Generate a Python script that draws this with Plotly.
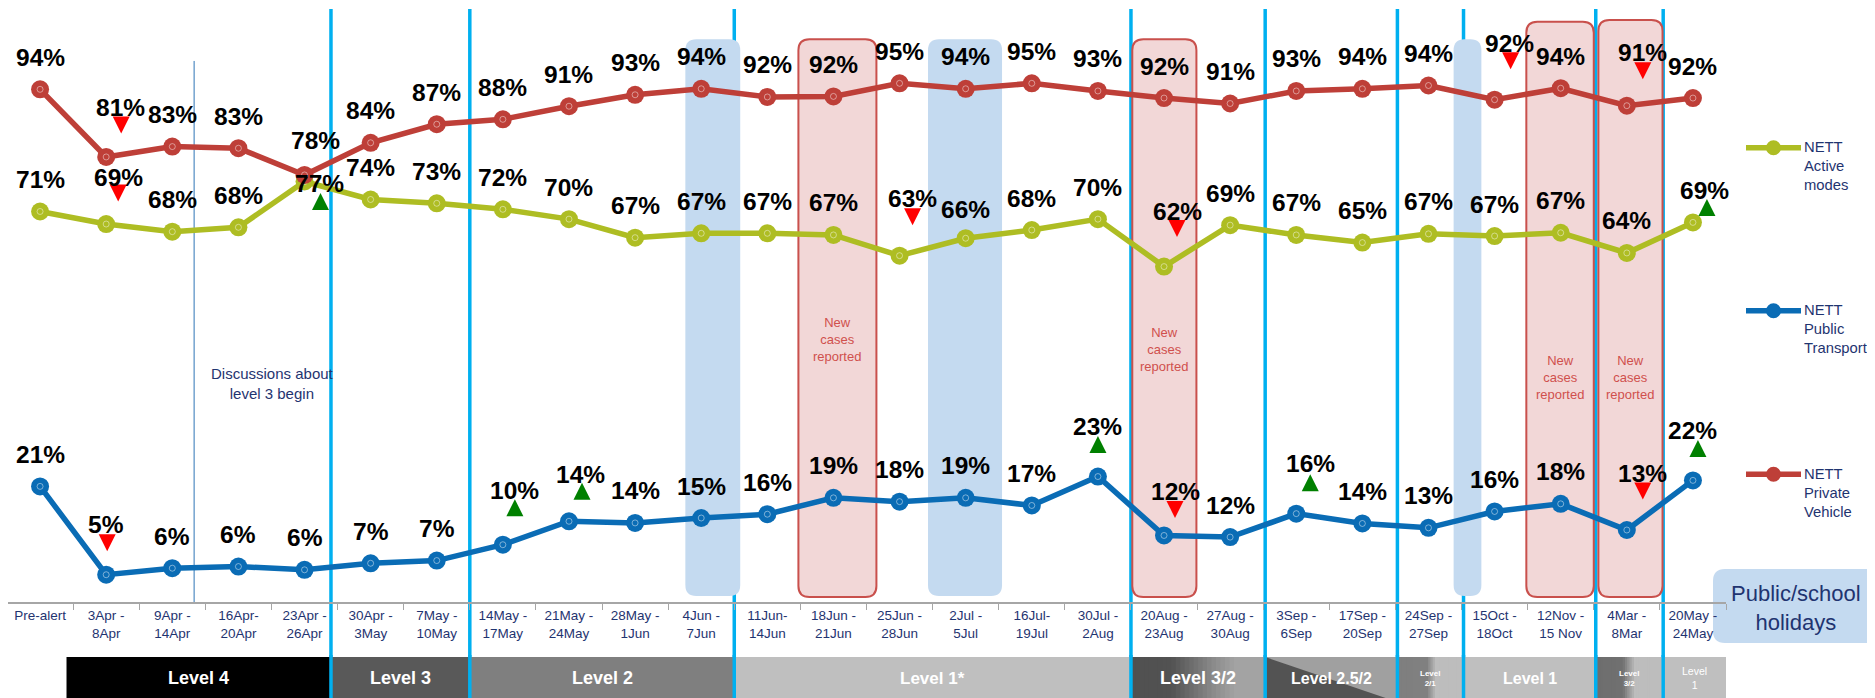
import plotly.graph_objects as go

# ---------------- data ----------------
categories = ["Pre-alert", "3Apr -<br>8Apr", "9Apr -<br>14Apr", "16Apr-<br>20Apr", "23Apr -<br>26Apr",
              "30Apr -<br>3May", "7May -<br>10May", "14May -<br>17May", "21May -<br>24May", "28May -<br>1Jun",
              "4Jun -<br>7Jun", "11Jun-<br>14Jun", "18Jun -<br>21Jun", "25Jun -<br>28Jun", "2Jul -<br>5Jul",
              "16Jul-<br>19Jul", "30Jul -<br>2Aug", "20Aug -<br>23Aug", "27Aug -<br>30Aug", "3Sep -<br>6Sep",
              "17Sep -<br>20Sep", "24Sep -<br>27Sep", "15Oct -<br>18Oct", "12Nov -<br>15 Nov", "4Mar -<br>8Mar",
              "20May -<br>24May"]

active_modes = [71.6, 69.3, 67.9, 68.7, 77.1, 73.8, 73.1, 72.0, 70.2, 66.8, 67.6, 67.6, 67.3, 63.5, 66.7,
                68.2, 70.2, 61.5, 69.1, 67.3, 65.9, 67.5, 67.1, 67.7, 64.0, 69.6]
public_transport = [21.2, 5.0, 6.2, 6.5, 5.9, 7.1, 7.6, 10.5, 14.8, 14.5, 15.4, 16.1, 19.1, 18.4, 19.1,
                    17.7, 23.0, 12.2, 11.9, 16.2, 14.4, 13.6, 16.6, 18.0, 13.2, 22.3]
private_vehicle = [94.0, 81.6, 83.5, 83.2, 78.3, 84.2, 87.6, 88.5, 90.9, 93.0, 94.1, 92.6, 92.7, 95.1, 94.1,
                   95.1, 93.7, 92.4, 91.4, 93.7, 94.1, 94.7, 92.1, 94.2, 91.0, 92.4]

active_labels = [71, 69, 68, 68, 77, 74, 73, 72, 70, 67, 67, 67, 67, 63, 66, 68, 70, 62, 69, 67, 65, 67, 67, 67, 64, 69]
public_labels = [21, 5, 6, 6, 6, 7, 7, 10, 14, 14, 15, 16, 19, 18, 19, 17, 23, 12, 12, 16, 14, 13, 16, 18, 13, 22]
private_labels = [94, 81, 83, 83, 78, 84, 87, 88, 91, 93, 94, 92, 92, 95, 94, 95, 93, 92, 91, 93, 94, 94, 92, 94, 91, 92]

# significant change indicators (index -> direction)
active_changes = {1: "down", 4: "up", 13: "down", 17: "down", 25: "up"}
public_changes = {1: "down", 7: "up", 8: "up", 16: "up", 17: "down", 19: "up", 24: "down", 25: "up"}
private_changes = {1: "down", 22: "down", 24: "down"}

level_names = ["Level 4", "Level 3", "Level 2", "Level 1*", "Level 3/2", "Level 2.5/2",
               "Level<br>2/1", "Level 1", "Level<br>3/2", "Level<br>1"]
level_bounds = [0.4, 4.4, 6.5, 10.5, 16.5, 18.53, 20.53, 21.53, 23.53, 24.55, 25.5]
level_change_lines = [4.4, 6.5, 10.5, 16.5, 18.53, 20.53, 21.53, 23.53, 24.55]
holiday_spans = [(9.76, 10.59), (13.43, 14.55), (21.38, 21.80)]
new_case_spans = [(11.47, 12.65), (16.52, 17.49), (22.48, 23.50), (23.57, 24.54)]
discussion_line = 2.33

# ---------------- layout constants ----------------
# The page body adds an 8px offset; the figure is sized so that it fills the window exactly.
OFF = 8
W, H = 1875 - OFF, 698 - OFF
ML, MR, MT, MB = 0, 149, 0, 96
PW, PH = W - ML - MR, H - MT - MB           # 1718 x 594
AXIS_Y = 602                                 # y=0 in window pixels
XR = [-0.485, 25.5]
PXX = PW / (XR[1] - XR[0])
PXY = 5.454
YR = [0, PH / PXY]


def xp(px):
    """window pixel x -> paper x"""
    return (px - OFF - ML) / PW


def yp(py):
    """window pixel y -> paper y"""
    return (AXIS_Y - py) / PH


RED = "#BE3F38"
GREEN = "#AEBD23"
BLUE = "#0A6CB5"
NAVY = "#1F3470"
FONT = "Liberation Sans, Arial, sans-serif"

fig = go.Figure()
shapes = []
annotations = []


def rounded_path(x0, x1, y0, y1, rx, ry):
    return (f"M{x0 + rx},{y0} L{x1 - rx},{y0} Q{x1},{y0} {x1},{y0 + ry} "
            f"L{x1},{y1 - ry} Q{x1},{y1} {x1 - rx},{y1} L{x0 + rx},{y1} "
            f"Q{x0},{y1} {x0},{y1 - ry} L{x0},{y0 + ry} Q{x0},{y0} {x0 + rx},{y0} Z")


# holiday boxes
for (a, b) in holiday_spans:
    shapes.append(dict(type="path", xref="x", yref="y", layer="below",
                       path=rounded_path(a, b, 1.1, 103.2, 11 / PXX, 11 / PXY),
                       fillcolor="#C4DAF0", line=dict(width=0)))
# new cases boxes
nc_tops = [103.2, 103.2, 106.4, 106.7]
nc_text_y = [339, 349, 378, 378]
for (a, b), top, ty in zip(new_case_spans, nc_tops, nc_text_y):
    shapes.append(dict(type="path", xref="x", yref="y", layer="below",
                       path=rounded_path(a, b, 0.9, top, 11 / PXX, 11 / PXY),
                       fillcolor="#F2D7D7", line=dict(width=2, color="#C9504C")))
    annotations.append(dict(x=(a + b) / 2, y=yp(ty), xref="x", yref="paper",
                            xanchor="center", yanchor="middle",
                            text="New<br>cases<br>reported", showarrow=False,
                            font=dict(size=13, color="#D0504D", family=FONT)))

# level change vertical lines
for xv in level_change_lines:
    shapes.append(dict(type="line", xref="x", yref="paper", layer="below",
                       x0=xv, x1=xv, y0=yp(9), y1=yp(702),
                       line=dict(color="#00B0F0", width=3.5)))

# discussion line
shapes.append(dict(type="line", xref="x", yref="y", layer="below",
                   x0=discussion_line, x1=discussion_line, y0=0, y1=99.2,
                   line=dict(color="#2E75B6", width=1)))
annotations.append(dict(x=discussion_line + 1.18, y=yp(383), xref="x", yref="paper",
                        xanchor="center", yanchor="middle",
                        text="Discussions about<br>level 3 begin", showarrow=False,
                        font=dict(size=15, color=NAVY, family=FONT)))


# level band
def hex2rgb(h):
    h = h.lstrip("#")
    return tuple(int(h[i:i + 2], 16) for i in (0, 2, 4))


def grad_color(stops, t):
    for (t0, c0), (t1, c1) in zip(stops[:-1], stops[1:]):
        if t0 <= t <= t1:
            f = 0 if t1 == t0 else (t - t0) / (t1 - t0)
            a, b = hex2rgb(c0), hex2rgb(c1)
            return "rgb(%d,%d,%d)" % tuple(round(a[k] + (b[k] - a[k]) * f) for k in range(3))
    return stops[-1][1]


band_y0, band_y1 = yp(657), yp(702)
band_styles = [
    [(0, "#000000"), (1, "#000000")],
    [(0, "#595959"), (1, "#595959")],
    [(0, "#7F7F7F"), (1, "#7F7F7F")],
    [(0, "#BFBFBF"), (1, "#BFBFBF")],
    [(0, "#505050"), (0.3, "#525252"), (0.62, "#8C8C8C"), (0.78, "#A3A3A3"), (1, "#A3A3A3")],
    "diag",
    [(0, "#7F7F7F"), (0.45, "#808080"), (0.58, "#BDBDBD"), (1, "#BDBDBD")],
    [(0, "#BFBFBF"), (1, "#BFBFBF")],
    [(0, "#6E6E6E"), (0.4, "#707070"), (0.58, "#BDBDBD"), (1, "#BDBDBD")],
    [(0, "#BFBFBF"), (1, "#BFBFBF")],
]
level_font_sizes = [18, 18, 18, 17, 18, 16, 8, 16, 8, 10.5]
for k, name in enumerate(level_names):
    a, b = level_bounds[k], level_bounds[k + 1]
    st = band_styles[k]
    if st == "diag":
        shapes.append(dict(type="rect", xref="x", yref="paper", layer="below", x0=a, x1=b,
                           y0=band_y1, y1=band_y0, fillcolor="#A0A0A0", line=dict(width=0)))
        shapes.append(dict(type="path", xref="x", yref="paper", layer="below",
                           path=f"M{a},{band_y0} L{a},{band_y1} L{b},{band_y1} Z",
                           fillcolor="#535353", line=dict(width=0)))
    elif len(st) == 2 and st[0][1] == st[1][1]:
        shapes.append(dict(type="rect", xref="x", yref="paper", layer="below", x0=a, x1=b,
                           y0=band_y1, y1=band_y0, fillcolor=st[0][1], line=dict(width=0)))
    else:
        n = 30
        for j in range(n):
            xa = a + (b - a) * j / n
            xb = min(b, a + (b - a) * (j + 1) / n + 0.02)
            shapes.append(dict(type="rect", xref="x", yref="paper", layer="below", x0=xa, x1=xb,
                               y0=band_y1, y1=band_y0,
                               fillcolor=grad_color(st, (j + 0.5) / n), line=dict(width=0)))
    annotations.append(dict(x=(a + b) / 2, y=yp(678), xref="x", yref="paper", text=name,
                            xanchor="center", yanchor="middle", showarrow=False,
                            font=dict(size=level_font_sizes[k], color="white", family=FONT,
                                      weight="normal" if name == "Level<br>1" else "bold")))

# cyan lines across the band
for xv in level_change_lines:
    shapes.append(dict(type="line", xref="x", yref="paper", layer="below",
                       x0=xv, x1=xv, y0=yp(655), y1=yp(702),
                       line=dict(color="#00B0F0", width=3.5)))

# ---------------- series ----------------
series = [
    ("NETT<br>Active<br>modes", active_modes, active_labels, active_changes, GREEN, 147.7),
    ("NETT<br>Public<br>Transport", public_transport, public_labels, public_changes, BLUE, 310.7),
    ("NETT<br>Private<br>Vehicle", private_vehicle, private_labels, private_changes, RED, 474.3),
]

# label offsets (xshift, yshift) in px, default (0, 32)
label_offsets = {
    0: {1: (12, 47), 4: (15, -2), 13: (13, 57), 14: (0, 29), 17: (13, 55), 25: (12, 32)},
    1: {1: (0, 50), 7: (12, 54), 8: (12, 47), 16: (0, 50), 17: (11, 44), 19: (14, 50), 24: (16, 57), 25: (0, 50)},
    2: {1: (14, 49), 4: (11, 34), 22: (15, 56), 24: (16, 53)},
}
# change-indicator offsets (dx, dy_up) in px
arrow_offsets = {
    0: {1: (12, 31), 4: (16, -20), 13: (13, 39), 17: (13, 38), 25: (14, 15)},
    1: {1: (1, 32), 7: (12, 37), 8: (13, 30), 16: (0, 32), 17: (11, 26), 19: (14, 31), 24: (16, 39), 25: (5, 32)},
    2: {1: (15, 32), 22: (16, 39), 24: (16, 35)},
}

xs = list(range(len(categories)))
for s, (name, vals, labels, changes, color, _) in enumerate(series):
    fig.add_trace(go.Scatter(x=xs, y=vals, mode="lines+markers", name=name.replace("<br>", " "),
                             line=dict(color=color, width=5.5),
                             marker=dict(size=18, color=color), showlegend=False, hoverinfo="skip"))
    fig.add_trace(go.Scatter(x=xs, y=vals, mode="markers", showlegend=False, hoverinfo="skip",
                             marker=dict(size=6, symbol="circle-open", color="rgba(255,255,255,0.45)",
                                         line=dict(width=1, color="rgba(255,255,255,0.45)"))))
    for i, (v, lab) in enumerate(zip(vals, labels)):
        dx, dy = label_offsets[s].get(i, (0, 32))
        annotations.append(dict(x=i, y=v, xref="x", yref="y", text=f"{lab}%", showarrow=False,
                                xanchor="center", yanchor="middle", xshift=dx, yshift=dy,
                                font=dict(size=24.5, color="black", family=FONT, weight="bold")))
    for i, d in changes.items():
        dx, dy = arrow_offsets[s][i]
        h = 8.5
        if d == "down":
            path = f"M{dx - h},{dy + h} L{dx + h},{dy + h} L{dx},{dy - h} Z"
            col = "#FF0000"
        else:
            path = f"M{dx - h},{dy - h} L{dx + h},{dy - h} L{dx},{dy + h} Z"
            col = "#008000"
        shapes.append(dict(type="path", xref="x", yref="y", xsizemode="pixel", ysizemode="pixel",
                           xanchor=i, yanchor=vals[i], path=path, fillcolor=col,
                           line=dict(width=0), layer="above"))

# ---------------- manual legend ----------------
for name, vals, labels, changes, color, ly in series:
    shapes.append(dict(type="line", xref="paper", yref="paper", x0=xp(1746), x1=xp(1801),
                       y0=yp(ly), y1=yp(ly), line=dict(color=color, width=5.5)))
    shapes.append(dict(type="circle", xref="paper", yref="paper", xsizemode="pixel", ysizemode="pixel",
                       xanchor=xp(1773.5), yanchor=yp(ly), x0=-7.5, x1=7.5, y0=-7.5, y1=7.5,
                       fillcolor=color, line=dict(width=0)))
    annotations.append(dict(x=xp(1802), y=yp(ly + 18.3), xref="paper", yref="paper", text=name,
                            xanchor="left", yanchor="middle", align="left", showarrow=False,
                            font=dict(size=14.8, color=NAVY, family=FONT)))

# holidays legend box
shapes.append(dict(type="path", xref="paper", yref="paper", layer="below",
                   path=rounded_path(xp(1713), xp(1890), yp(643), yp(569), 12 / PW, 12 / PH),
                   fillcolor="#C4DAF0", line=dict(width=0)))
annotations.append(dict(x=xp(1796), y=yp(608), xref="paper", yref="paper",
                        xanchor="center", yanchor="middle",
                        text="Public/school<br>holidays", showarrow=False,
                        font=dict(size=22, color=NAVY, family=FONT)))

fig.update_layout(
    width=W, height=H, margin=dict(l=ML, r=MR, t=MT, b=MB, pad=0),
    plot_bgcolor="white", paper_bgcolor="white",
    font=dict(family=FONT),
    showlegend=False,
    shapes=shapes, annotations=annotations,
    xaxis=dict(range=XR, tickvals=xs, ticktext=categories, ticks="", showgrid=False, zeroline=False,
               showline=True, linecolor="#A6A6A6", linewidth=1.5,
               tickfont=dict(size=13.5, color=NAVY, family=FONT),
               minor=dict(tickvals=[i - 0.5 for i in range(len(categories) + 1)], ticks="outside",
                          ticklen=6, tickcolor="#A6A6A6", tickwidth=1, showgrid=False)),
    yaxis=dict(range=YR, visible=False, showgrid=False, zeroline=False),
)

fig.write_html("out.html")
